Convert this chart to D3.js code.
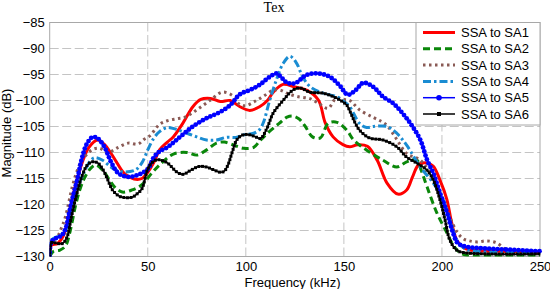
<!DOCTYPE html>
<html>
<head>
<meta charset="utf-8">
<script src="https://cdn.jsdelivr.net/npm/d3@7"></script>
<style>
  html, body { margin: 0; padding: 0; background: #fff; }
  svg { display: block; font-family: "Liberation Sans", Arial, Helvetica, sans-serif; }
</style>
</head>
<body>
<svg id="chart" width="550" height="289"></svg>
<script>
// ---------- DATA ----------
const chartTitle = "Tex";
const xTicks = [0, 50, 100, 150, 200, 250];
const yTicks = [-130, -125, -120, -115, -110, -105, -100, -95, -90, -85];
const seriesNames = ["SSA to SA1", "SSA to SA2", "SSA to SA3", "SSA to SA4", "SSA to SA5", "SSA to SA6"];

const sa1 = [[0,-130],[1,-127.8],[4,-127.5],[7,-126],[10,-121.5],[13,-116.5],[16.5,-112],[20,-109],[24.5,-107.6],[28,-108.5],[31,-110],[34,-111.8],[38,-114],[43,-115.1],[47,-115],[50,-113.8],[53,-112],[56,-109.5],[60,-108],[63,-107],[68,-104.3],[73,-101.2],[77,-99.8],[82,-99.6],[87,-100.2],[92,-100],[97,-101.2],[102,-101.9],[107,-101.2],[111,-100],[114,-98.4],[119,-96.9],[125,-97.4],[131,-98],[137,-99.9],[140.5,-104.3],[144.5,-107],[149.5,-108.5],[153,-108.9],[157,-108.5],[162,-108.8],[167,-111.5],[172,-115.9],[177.5,-118],[182,-117.2],[185,-114.7],[188,-112.4],[192,-112],[195.5,-112.6],[199,-115.3],[202.5,-119],[205,-123.6],[207.5,-126.8],[211,-128.3],[215,-128.8],[230,-129],[250,-129.2]];

const sa2 = [[0,-130],[2,-129],[5,-128.8],[8,-128],[10.5,-125],[13,-120.5],[15.5,-117],[18,-114.7],[21,-113],[23.5,-112.4],[27,-113.4],[30,-115],[33,-116.6],[37,-117.6],[42,-117.2],[47,-116.2],[52,-114],[56,-112.4],[63,-110.3],[70,-110],[75,-110.5],[80,-109.5],[85,-108.2],[89,-108],[94,-108.6],[99,-109.2],[104,-109],[107,-107.8],[111,-106.3],[117,-104.4],[121,-103.2],[124,-103],[127,-103.5],[130,-104.8],[134,-107],[138,-107.2],[142,-104.4],[146.5,-104.2],[151.5,-105.7],[155,-107.6],[161.5,-109.5],[170,-111.5],[177,-112.8],[182,-111.8],[187,-111.4],[189.5,-113.5],[192.4,-116.6],[197.4,-121.6],[202.6,-125.5],[205.7,-127.8],[209,-129.2],[213,-129.8],[222,-129.9],[250,-129.9]];

const sa3 = [[0,-130],[1,-127.4],[4,-126.2],[6,-124.5],[8,-122.4],[11.5,-116.6],[14,-113.5],[16.5,-111.5],[21.5,-109.5],[25.5,-109.2],[29.5,-110],[35,-109],[40,-108.2],[45,-108.4],[48,-107.5],[51,-106.8],[56,-104.6],[60,-103.9],[65,-103.5],[69,-103.2],[75,-101.8],[82,-99.9],[88,-98.4],[93,-99],[97,-100.8],[100,-101],[104,-100.3],[109,-99.2],[114,-98],[117.5,-98],[121,-98.6],[126,-99.2],[133,-99.7],[138,-100.8],[142,-101.5],[146,-99.6],[150,-99.8],[153,-100],[158,-101.8],[164.7,-103.2],[169,-104],[172,-104.8],[177,-107.5],[182,-110.2],[188.8,-111.4],[194,-114],[199,-117.8],[204,-122.4],[208,-125.5],[211,-126.6],[214,-127],[218,-127.2],[223,-127],[228,-127.4],[233,-128.7],[240,-129],[250,-129.2]];

const sa4 = [[0,-130],[1,-126.8],[5,-126],[8,-125],[10.5,-122],[13,-118.6],[15.5,-115.5],[18,-113.4],[21,-111.5],[23,-111],[27,-111.5],[32,-113],[37,-113.7],[43.5,-113.4],[47,-112],[50,-109.5],[53,-107.3],[56,-106],[60,-105.2],[65,-105.6],[70,-106.3],[75,-107],[80,-107.6],[85,-107.6],[90,-107.1],[95,-107.1],[99,-106.6],[104,-106.3],[107,-105.6],[109,-104.2],[112,-100.2],[116,-95.6],[119,-92.9],[122.5,-91.5],[126,-92.9],[129,-95.5],[133,-97.4],[139.5,-98.6],[146.5,-99.3],[151,-100.5],[153,-101.2],[158,-104.4],[161.6,-105.2],[165,-105],[172,-105],[177,-106.3],[182,-108.6],[189,-112.8],[195.6,-115.9],[200.7,-119.1],[204,-123],[207.6,-126.9],[211,-128.3],[215,-128.9],[250,-129.2]];

const sa5 = [[0,-130],[0.8,-127.2],[3,-126.5],[6,-126],[8,-124.8],[10,-121.5],[11.5,-119],[14,-115.3],[16.5,-111],[19,-108.3],[22,-107],[24.5,-107.3],[28,-109],[31.5,-112],[35,-114],[40,-114.7],[45,-114.3],[50,-113.2],[53,-111],[56,-109.8],[60,-109],[66.5,-107],[73,-105],[80,-103.4],[87,-102.2],[92,-100.9],[97,-98.8],[102,-98],[107,-97],[112,-95.5],[115.6,-94.8],[118,-95.5],[120.7,-96.5],[125,-96.7],[131,-95.1],[137,-94.8],[143,-95.5],[148,-97.2],[152,-98.9],[156,-98],[160,-96.6],[165,-97.4],[170,-99.3],[175,-100.5],[180,-102.5],[185,-105],[189,-107.6],[192.4,-111.4],[195.6,-114],[199,-117.8],[202.6,-121.6],[205.7,-125.5],[208,-127.4],[212,-128.1],[220,-128.4],[235,-128.7],[250,-129]];

const sa6 = [[0,-130],[1,-127.3],[4,-127.5],[6.5,-127.5],[8.8,-126.3],[11,-122.5],[13,-119.2],[15,-116.3],[17,-114],[19,-112.5],[21.5,-111.8],[24.5,-112],[27,-113.2],[29,-114.7],[32,-117.2],[35,-118.3],[37,-118.6],[42,-118.6],[45,-117.8],[47,-117],[50,-113.2],[52,-112],[54.6,-111.4],[57,-111.5],[60,-112],[65,-113.8],[68,-114.2],[72,-113.4],[76,-112.7],[80,-112.8],[84,-113.4],[87,-113.8],[89,-113.6],[91,-112.3],[93,-110],[95.5,-107.5],[98.6,-106.6],[102,-106.6],[105,-107],[107.5,-107.3],[110.6,-105.5],[114,-102.4],[119,-100],[124,-98],[127.7,-97.6],[132.7,-98.4],[139.5,-98.6],[146.5,-99.6],[151.5,-100.9],[153,-102],[156,-104.5],[158,-105.7],[163,-107.2],[170,-107.6],[177,-108.9],[182,-110.9],[187,-112],[192.4,-113.4],[195.6,-115.3],[199,-119.1],[201.6,-123],[204,-126.8],[207.6,-128.8],[212,-129.3],[250,-129.5]];

const seriesData = [sa1, sa2, sa3, sa4, sa5, sa6];

// ---------- STYLES ----------
const styles = [
  { color: "#ff0000", width: 3, dash: null, marker: null },
  { color: "#0a870a", width: 3, dash: "7,4", marker: null },
  { color: "#8a5a55", width: 3, dash: "2.5,3.5", marker: null },
  { color: "#1a8cd2", width: 3, dash: "8,3,2.5,3", marker: null },
  { color: "#0000ff", width: 1.5, dash: null, marker: "circle" },
  { color: "#000000", width: 1.5, dash: null, marker: "square" }
];

// ---------- LAYOUT ----------
const svg = d3.select("#chart");
const plot = { left: 49.7, right: 540, top: 22.5, bottom: 256.5 };

const x = d3.scaleLinear().domain([0, 250]).range([plot.left, plot.right]);
const y = d3.scaleLinear().domain([-130, -85]).range([plot.bottom, plot.top]);

// Grid
const gridColor = "#c4c4c4";
svg.append("g").selectAll("line.gx").data(xTicks.filter(t => t > 0 && t < 250)).join("line")
  .attr("x1", d => x(d)).attr("x2", d => x(d))
  .attr("y1", plot.top).attr("y2", plot.bottom)
  .attr("stroke", gridColor).attr("stroke-width", 1).attr("stroke-dasharray", "9,3.5");
svg.append("g").selectAll("line.gy").data(yTicks.filter(t => t > -130 && t < -85)).join("line")
  .attr("x1", plot.left).attr("x2", plot.right)
  .attr("y1", d => y(d)).attr("y2", d => y(d))
  .attr("stroke", gridColor).attr("stroke-width", 1).attr("stroke-dasharray", "9,3.5");

// Axes (labels)
const xAxis = d3.axisBottom(x).tickValues(xTicks).tickSize(0).tickPadding(5);
const gx = svg.append("g").attr("transform", `translate(0,${plot.bottom})`).call(xAxis);
gx.select(".domain").remove();
gx.selectAll("text").attr("fill", "#000")
  .style("font-size", "13px").style("font-family", "'Liberation Sans', Arial, sans-serif");

const yAxis = d3.axisLeft(y).tickValues(yTicks).tickSize(0).tickPadding(5);
const gy = svg.append("g").attr("transform", `translate(${plot.left},0)`).call(yAxis);
gy.select(".domain").remove();
gy.selectAll("text").attr("fill", "#000")
  .style("font-size", "13px").style("font-family", "'Liberation Sans', Arial, sans-serif");

// Box
svg.append("rect").attr("x", plot.left).attr("y", plot.top)
  .attr("width", plot.right - plot.left).attr("height", plot.bottom - plot.top)
  .attr("fill", "none").attr("stroke", "#a8a8a8").attr("stroke-width", 1);

// Clip
svg.append("defs").append("clipPath").attr("id", "clip")
  .append("rect").attr("x", plot.left).attr("y", plot.top - 2)
  .attr("width", plot.right - plot.left + 3).attr("height", plot.bottom - plot.top + 2);

const line = d3.line().x(d => x(d[0])).y(d => y(d[1])).curve(d3.curveCatmullRom.alpha(0.5));

const lines = svg.append("g").attr("clip-path", "url(#clip)");
seriesData.forEach((data, i) => {
  const st = styles[i];
  const p = lines.append("path").datum(data)
    .attr("d", line)
    .attr("fill", "none")
    .attr("stroke", st.color)
    .attr("stroke-width", st.width)
    .attr("stroke-linejoin", "round")
    .attr("stroke-dasharray", st.dash);
  if (st.marker) {
    const node = p.node();
    const total = node.getTotalLength();
    const step = st.marker === "circle" ? 4.2 : 3.6;
    const pts = d3.range(0, total, step).map(l => node.getPointAtLength(l));
    if (st.marker === "circle") {
      lines.append("g").selectAll("circle").data(pts).join("circle")
        .attr("cx", d => d.x).attr("cy", d => d.y).attr("r", 2.4)
        .attr("fill", st.color);
    } else {
      lines.append("g").selectAll("rect").data(pts).join("rect")
        .attr("x", d => d.x - 1.5).attr("y", d => d.y - 1.5)
        .attr("width", 3).attr("height", 3).attr("fill", st.color);
    }
  }
});

// Title
svg.append("text").attr("x", 274).attr("y", 12)
  .style("text-anchor", "middle")
  .style("font-family", "'Liberation Serif', 'Times New Roman', serif")
  .style("font-size", "14px").attr("fill", "#000").text(chartTitle);

// Axis titles
svg.append("text").attr("x", 292.5).attr("y", 286.5)
  .style("text-anchor", "middle").style("font-size", "13px")
  .attr("fill", "#000").text("Frequency (kHz)");
svg.append("text").attr("transform", "translate(11,133) rotate(-90)")
  .style("text-anchor", "middle").style("font-size", "13px")
  .attr("fill", "#000").text("Magnitude (dB)");

// Legend
const lg = { x: 416, y: 22.5, w: 124, h: 102.5, row0: 32.5, step: 16.3 };
svg.append("rect").attr("x", lg.x).attr("y", lg.y).attr("width", lg.w).attr("height", lg.h)
  .attr("fill", "#fff").attr("stroke", "#a8a8a8").attr("stroke-width", 1);
seriesNames.forEach((name, i) => {
  const st = styles[i];
  const cy = lg.row0 + i * lg.step;
  svg.append("line").attr("x1", 423).attr("x2", 455).attr("y1", cy).attr("y2", cy)
    .attr("stroke", st.color).attr("stroke-width", st.width)
    .attr("stroke-dasharray", st.dash);
  if (st.marker === "circle") {
    svg.append("circle").attr("cx", 439).attr("cy", cy).attr("r", 2.8).attr("fill", st.color);
  } else if (st.marker === "square") {
    svg.append("rect").attr("x", 439 - 2).attr("y", cy - 2).attr("width", 4).attr("height", 4).attr("fill", st.color);
  }
  svg.append("text").attr("x", 461).attr("y", cy + 4.6).style("font-size", "13px")
    .attr("fill", "#000").text(name);
});
</script>
</body>
</html>
